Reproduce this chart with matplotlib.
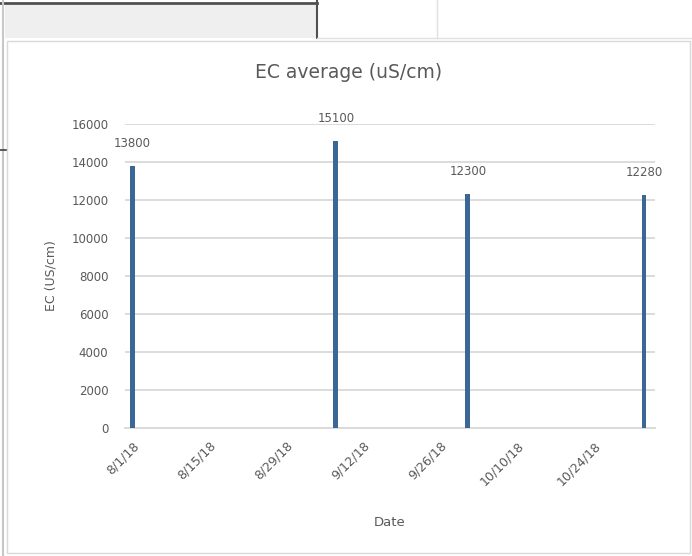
import datetime as dt
import matplotlib
matplotlib.use("Agg")
import matplotlib.pyplot as plt
import matplotlib.dates as mdates
from matplotlib.patches import Rectangle
from matplotlib.lines import Line2D
from matplotlib.transforms import ScaledTranslation

# sample dates and average EC readings
dates = [dt.date(2018, 8, 1), dt.date(2018, 9, 7), dt.date(2018, 10, 1), dt.date(2018, 11, 2)]
ec_avg = [13800, 15100, 12300, 12280]
tick_dates = [dt.date(2018, 8, 1) + dt.timedelta(days=14 * i) for i in range(7)]
tick_labels = ["8/1/18", "8/15/18", "8/29/18", "9/12/18", "9/26/18", "10/10/18", "10/24/18"]

W, H = 692, 556
fig = plt.figure(figsize=(W / 100, H / 100), dpi=100)
fig.patch.set_facecolor("white")

def px(x, y):
    # pixel coords (top-left origin) -> figure fraction
    return x / W, 1 - y / H

# spreadsheet cells behind the chart
x0, y0 = px(5, 38)
fig.patches.append(Rectangle((x0, y0), 312 / W, 33 / H, transform=fig.transFigure,
                             facecolor="#efefef", edgecolor="none", zorder=0))
for (xa, ya), (xb, yb), c, lw in [
    ((0, 3), (317, 3), "#505050", 2.0),
    ((317, 0), (317, 38), "#505050", 1.5),
    ((437, 0), (437, 38), "#e0e0e0", 1.0),
    ((317, 38), (692, 38), "#e0e0e0", 1.0),
    ((3, 0), (3, 556), "#c8c8c8", 1.5),
    ((0, 150), (8, 150), "#404040", 1.2),
]:
    p1, p2 = px(xa, ya), px(xb, yb)
    fig.add_artist(Line2D([p1[0], p2[0]], [p1[1], p2[1]], transform=fig.transFigure,
                          color=c, lw=lw, zorder=1))

# chart area
cx, cy = px(7, 553)
fig.patches.append(Rectangle((cx, cy), 683 / W, 512 / H, transform=fig.transFigure,
                             facecolor="white", edgecolor="#d9d9d9", lw=1.0, zorder=2))

ax = fig.add_axes([125 / W, 1 - 428 / H, 530 / W, 304 / H], zorder=3)
ax.set_facecolor("none")

bars = ax.bar(dates, ec_avg, width=0.9, color="#3a6796", zorder=3)
for d, v in zip(dates, ec_avg):
    ax.text(mdates.date2num(d), v + 850, str(v), ha="center", va="bottom",
            fontsize=8.5, color="#595959")

ax.set_ylim(0, 16000)
ax.set_yticks(range(0, 16001, 2000))
ax.set_xlim(mdates.date2num(dates[0]) - 1.3, mdates.date2num(dates[0]) + 95)
ax.set_xticks([mdates.date2num(d) for d in tick_dates])
ax.set_xticklabels(tick_labels, rotation=45, ha="right", va="top", rotation_mode="anchor")
shift = ScaledTranslation(-5 / 100, -1 / 100, fig.dpi_scale_trans)
for lab in ax.get_xticklabels():
    lab.set_transform(lab.get_transform() + shift)

ax.grid(axis="y", color="#d9d9d9", lw=1.3, zorder=0)
ax.set_axisbelow(True)
for s in ["top", "right", "left"]:
    ax.spines[s].set_visible(False)
ax.spines["bottom"].set_color("#d9d9d9")
ax.spines["bottom"].set_linewidth(1.3)
ax.tick_params(axis="both", length=0, labelsize=8.5, labelcolor="#595959")
ax.tick_params(axis="x", labelsize=9)
ax.tick_params(axis="y", pad=12)
ax.tick_params(axis="x", pad=8)

ax.set_ylabel("EC (US/cm)", fontsize=9, color="#595959", labelpad=10)
ax.set_xlabel("Date", fontsize=9.5, color="#595959", labelpad=20)
fig.text(349 / W, 1 - 72 / H, "EC average (uS/cm)", ha="center", va="center",
         fontsize=13.5, color="#595959", zorder=4)

fig.savefig("out.png", dpi=100)
